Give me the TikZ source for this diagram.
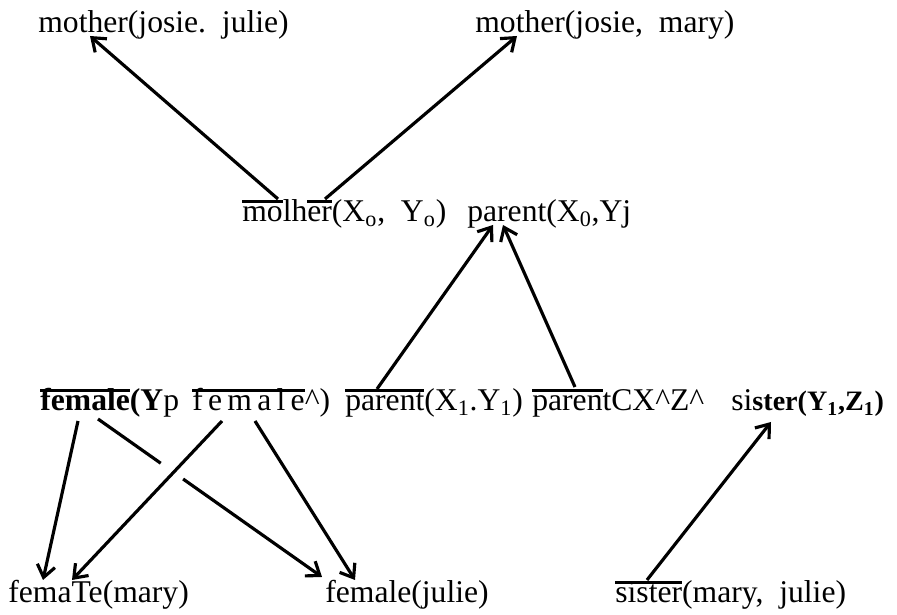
\documentclass[tikz,border=0pt]{standalone}
\usepackage{fontspec}
\setmainfont{Liberation Serif}
\usetikzlibrary{arrows.meta}
% bar over a negated literal
\newcommand{\negbar}[1]{\setbox0\hbox{#1}\rlap{\rule[11pt]{\wd0}{1.6pt}}\box0}

\begin{document}
\begin{tikzpicture}[
  lit/.style={font=\fontsize{18}{21}\selectfont, inner sep=0pt, anchor=base west},
  arr/.style={-{Straight Barb[length=2.4mm,width=3.6mm]}, line width=1.8pt},
  lnk/.style={line width=1.8pt}]
\useasboundingbox (0,0) rectangle (17.94,12.3);
% top row
\node[lit] (mj) at (0.76,11.64) {mother(josie.~~julie)};
\node[lit] (mm) at (9.50,11.64) {mother(josie,~~mary)};
% middle row
\node[lit] (m0) at (4.84,7.86) {\negbar{mo}lh\negbar{er}(X\textsubscript{o},~~Y\textsubscript{o})};
\node[lit] (p0) at (9.34,7.86) {parent(X\textsubscript{0},Yj};
% third row
\node[lit] (f1) at (0.80,4.08) {\negbar{\textbf{female}}\textbf{(Y}p};
\node[lit] (f2) at (3.84,4.08) {\negbar{f\,e\,m\,a\,l\,e}\textasciicircum)};
\node[lit] (p1) at (6.90,4.08) {\negbar{parent}(X\textsubscript{1}.Y\textsubscript{1})};
\node[lit] (p2) at (10.64,4.08) {\negbar{paren}tCX\textasciicircum Z\textasciicircum};
\node[lit] (s1) at (14.62,4.08) {si{\fontsize{16}{20}\selectfont\bfseries ster(Y\textsubscript{1},Z\textsubscript{1})}};
% bottom row
\node[lit] (fm) at (0.16,0.24) {femaTe(mary)};
\node[lit] (fj) at (6.50,0.24) {female(julie)};
\node[lit] (s0) at (12.30,0.24) {\negbar{sister}(mary,~~julie)};

\draw[arr] ([shift={(0.72,0.46)}]m0.base west) -- ([shift={(1.04,-0.06)}]mj.base west);
\draw[arr] ([shift={(1.66,0.46)}]m0.base west) -- ([shift={(0.84,-0.06)}]mm.base west);
\draw[arr] ([shift={(0.64,0.44)}]p1.base west) -- ([shift={(0.52,-0.06)}]p0.base west);
\draw[arr] ([shift={(0.86,0.48)}]p2.base west) -- ([shift={(0.72,-0.06)}]p0.base west);
\draw[arr] ([shift={(0.64,0.46)}]s0.base west) -- ([shift={(0.80,-0.22)}]s1.base west);

\draw[arr] ([shift={(0.76,-0.20)}]f1.base west) -- ([shift={(0.70,0.46)}]fm.base west);
% this one hops under the next
\coordinate (g0) at ([shift={(1.16,-0.16)}]f1.base west);
\coordinate (g1) at ([shift={(-0.06,0.52)}]fj.base west);
\path (g0) -- (g1) coordinate[pos=0.28] (ga) coordinate[pos=0.38] (gb);
\draw[lnk] (g0) -- (ga);
\draw[arr] (gb) -- (g1);
\draw[arr] ([shift={(0.60,-0.20)}]f2.base west) -- ([shift={(1.28,0.46)}]fm.base west);
\draw[arr] ([shift={(1.26,-0.20)}]f2.base west) -- ([shift={(0.60,0.46)}]fj.base west);
\end{tikzpicture}
\end{document}
